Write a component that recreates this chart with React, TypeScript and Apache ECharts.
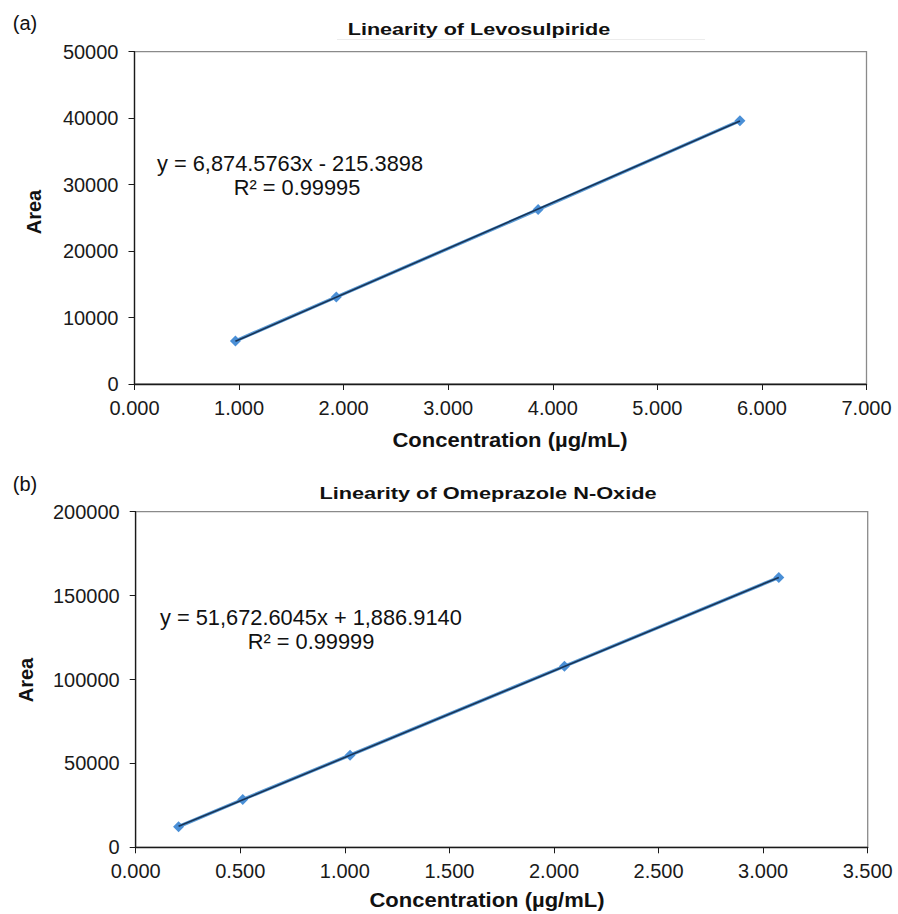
import React, { useEffect, useRef } from "react";
import * as echarts from "echarts";

// (a) Levosulpiride
const concA = [0.965, 1.93, 3.86, 5.79];
const areaA = [6480, 13100, 26250, 39600];
const slopeA = 6874.5763;
const interceptA = -215.3898;

// (b) Omeprazole N-Oxide
const concB = [0.205, 0.512, 1.025, 2.05, 3.075];
const areaB = [12300, 28500, 54900, 107900, 160800];
const slopeB = 51672.6045;
const interceptB = 1886.914;

const FONT = "Liberation Sans, Arial, sans-serif";

export default function App() {
  const ref = useRef<HTMLDivElement>(null);
  useEffect(() => {
    document.body.style.margin = "0";
    const chart = echarts.init(ref.current!, null, { renderer: "svg" });

    const trend = (xs: number[], m: number, b: number) => {
      const lo = Math.min(...xs);
      const hi = Math.max(...xs);
      return [
        [lo, m * lo + b],
        [hi, m * hi + b],
      ];
    };

    const axisCommon = {
      axisLine: { show: true, onZero: false, lineStyle: { color: "#1a1a1a", width: 1.3 } },
      axisTick: { show: true, inside: false, length: 6, lineStyle: { color: "#1a1a1a" } },
      splitLine: { show: false },
    };

    const xAxis = (gridIndex: number, max: number, interval: number) => ({
      type: "value",
      gridIndex,
      min: 0,
      max,
      interval,
      ...axisCommon,
      axisLabel: {
        color: "#1a1a1a",
        fontSize: 20,
        fontFamily: FONT,
        margin: 14,
        formatter: (v: number) => v.toFixed(3),
      },
    });
    const yAxis = (gridIndex: number, max: number, interval: number) => ({
      type: "value",
      gridIndex,
      min: 0,
      max,
      interval,
      ...axisCommon,
      axisLabel: {
        color: "#1a1a1a",
        fontSize: 20,
        fontFamily: FONT,
        margin: 16,
        formatter: (v: number) => String(v),
      },
    });

    const dataSeries = (idx: number, xs: number[], ys: number[]) => ({
      type: "line",
      xAxisIndex: idx,
      yAxisIndex: idx,
      data: xs.map((x, i) => [x, ys[i]]),
      symbol: "diamond",
      symbolSize: 11,
      lineStyle: { color: "#5b9bd5", width: 3.4 },
      itemStyle: { color: "#4a8fd6" },
      z: 2,
    });
    const trendSeries = (idx: number, pts: number[][]) => ({
      type: "line",
      xAxisIndex: idx,
      yAxisIndex: idx,
      data: pts,
      symbol: "none",
      lineStyle: { color: "#183457", width: 1.6 },
      z: 3,
    });

    const label = (x: number, y: number, text: string, font: string, extra: any = {}) => ({
      type: "text",
      x,
      y,
      ...extra,
      style: { text, fill: "#111", font, align: "center", verticalAlign: "middle" },
    });

    chart.setOption({
      animation: false,
      backgroundColor: "#fff",
      grid: [
        { left: 134.5, top: 51.7, width: 732, height: 332.3, show: true, borderColor: "#8a8a8a", borderWidth: 1.3 },
        { left: 135.7, top: 511.7, width: 732, height: 335.6, show: true, borderColor: "#8a8a8a", borderWidth: 1.3 },
      ],
      xAxis: [xAxis(0, 7, 1), xAxis(1, 3.5, 0.5)],
      yAxis: [yAxis(0, 50000, 10000), yAxis(1, 200000, 50000)],
      series: [
        dataSeries(0, concA, areaA),
        trendSeries(0, trend(concA, slopeA, interceptA)),
        dataSeries(1, concB, areaB),
        trendSeries(1, trend(concB, slopeB, interceptB)),
      ],
      graphic: [
        label(25, 23, "(a)", `20px ${FONT}`),
        label(25, 484, "(b)", `20px ${FONT}`),
        {
          type: "line",
          shape: { x1: 337, y1: 39.5, x2: 705, y2: 39.5 },
          style: { stroke: "#ececec", lineWidth: 1 },
        },
        label(479, 29, "Linearity of Levosulpiride", `bold 17px ${FONT}`, { scaleX: 1.27 }),
        label(488, 493, "Linearity of Omeprazole N-Oxide", `bold 17px ${FONT}`, { scaleX: 1.28 }),
        label(510, 440, "Concentration (µg/mL)", `bold 20px ${FONT}`, { scaleX: 1.1 }),
        label(487, 900, "Concentration (µg/mL)", `bold 20px ${FONT}`, { scaleX: 1.1 }),
        label(34, 212, "Area", `bold 20px ${FONT}`, { rotation: Math.PI / 2 }),
        label(26, 680, "Area", `bold 20px ${FONT}`, { rotation: Math.PI / 2 }),
        {
          type: "text",
          x: 157,
          y: 163,
          style: { text: "y = 6,874.5763x - 215.3898", fill: "#111", font: `21.8px ${FONT}`, align: "left", verticalAlign: "middle" },
        },
        label(297, 187, "R² = 0.99995", `21.8px ${FONT}`),
        {
          type: "text",
          x: 160,
          y: 617,
          style: { text: "y = 51,672.6045x + 1,886.9140", fill: "#111", font: `21.8px ${FONT}`, align: "left", verticalAlign: "middle" },
        },
        label(311, 641, "R² = 0.99999", `21.8px ${FONT}`),
      ],
    });
    return () => chart.dispose();
  }, []);
  return <div ref={ref} style={{ width: 898, height: 914 }} />;
}
